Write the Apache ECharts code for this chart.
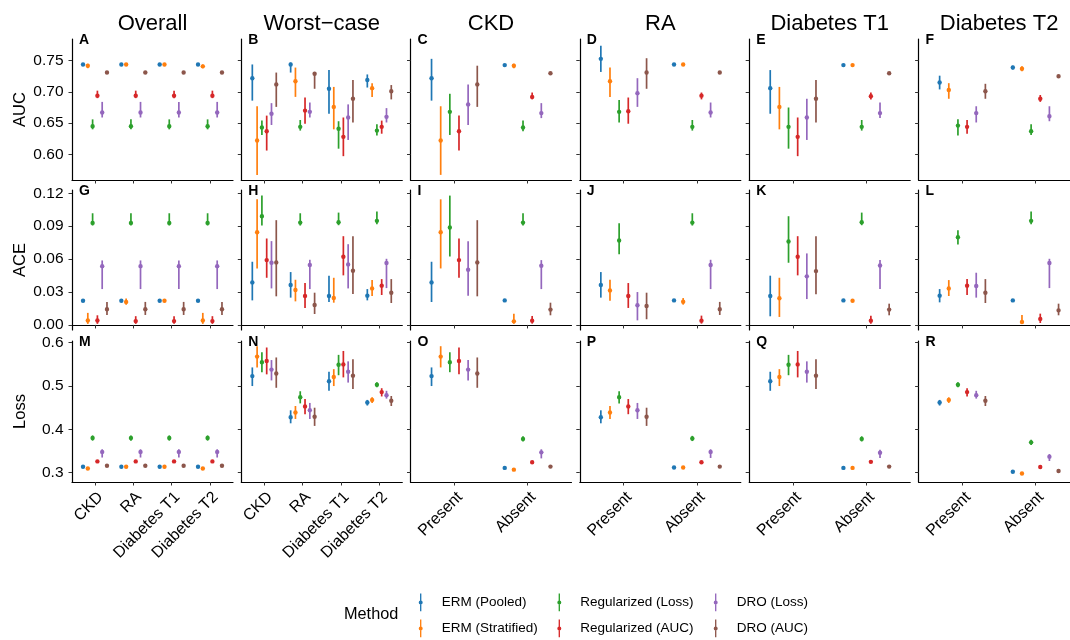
<!DOCTYPE html>
<html>
<head>
<meta charset="utf-8">
<script src="https://cdn.jsdelivr.net/npm/echarts@6/dist/echarts.min.js"></script>
<style>html,body{margin:0;background:#fff}#chart{width:1070px;height:640px}</style>
</head>
<body>
<div id="chart"></div>
<script>
const methods = ['ERM (Pooled)', 'ERM (Stratified)', 'Regularized (Loss)', 'Regularized (AUC)', 'DRO (Loss)', 'DRO (AUC)'];
const colors = ['#1f77b4', '#ff7f0e', '#2ca02c', '#d62728', '#9467bd', '#8c564b'];
const groupCats = ['CKD', 'RA', 'Diabetes T1', 'Diabetes T2'];
const presenceCats = ['Present', 'Absent'];
const columnTitles = ['Overall', 'Worst\u2212case', 'CKD', 'RA', 'Diabetes T1', 'Diabetes T2'];
const metricNames = ['AUC', 'ACE', 'Loss'];
const aucTicks = [0.60, 0.65, 0.70, 0.75];
const aceTicks = [0.00, 0.03, 0.06, 0.09, 0.12];
const lossTicks = [0.3, 0.4, 0.5, 0.6];

// one row per method, one [estimate, lower, upper] per category
const aucOverall = [
  [[0.744,0.742,0.746],[0.744,0.742,0.746],[0.744,0.742,0.746],[0.744,0.742,0.746]],
  [[0.742,0.738,0.745],[0.744,0.742,0.746],[0.744,0.742,0.746],[0.741,0.738,0.744]],
  [[0.645,0.640,0.656],[0.645,0.640,0.656],[0.645,0.640,0.656],[0.645,0.640,0.656]],
  [[0.694,0.690,0.702],[0.694,0.690,0.702],[0.694,0.690,0.702],[0.694,0.690,0.702]],
  [[0.667,0.659,0.684],[0.667,0.659,0.684],[0.667,0.659,0.684],[0.667,0.659,0.684]],
  [[0.731,0.729,0.733],[0.731,0.729,0.733],[0.731,0.729,0.733],[0.731,0.729,0.733]]
];
const aucWorst = [
  [[0.722,0.686,0.744],[0.744,0.731,0.747],[0.705,0.665,0.735],[0.719,0.707,0.728]],
  [[0.622,0.567,0.677],[0.717,0.692,0.739],[0.676,0.640,0.708],[0.706,0.692,0.714]],
  [[0.643,0.631,0.654],[0.644,0.638,0.655],[0.641,0.609,0.653],[0.638,0.630,0.648]],
  [[0.637,0.606,0.662],[0.670,0.649,0.691],[0.628,0.597,0.659],[0.644,0.633,0.654]],
  [[0.665,0.647,0.682],[0.668,0.659,0.683],[0.659,0.623,0.680],[0.660,0.651,0.674]],
  [[0.712,0.676,0.731],[0.729,0.705,0.732],[0.689,0.651,0.719],[0.701,0.688,0.711]]
];
const aucCKD = [
  [[0.722,0.686,0.753],[0.743,0.742,0.744]],
  [[0.622,0.567,0.677],[0.742,0.738,0.745]],
  [[0.668,0.631,0.697],[0.643,0.637,0.654]],
  [[0.637,0.606,0.662],[0.692,0.688,0.699]],
  [[0.680,0.647,0.712],[0.666,0.658,0.682]],
  [[0.712,0.676,0.742],[0.730,0.729,0.731]]
];
const aucRA = [
  [[0.753,0.732,0.774],[0.744,0.743,0.745]],
  [[0.717,0.692,0.739],[0.744,0.743,0.745]],
  [[0.668,0.651,0.687],[0.644,0.638,0.655]],
  [[0.669,0.649,0.691],[0.694,0.688,0.699]],
  [[0.698,0.676,0.722],[0.667,0.659,0.683]],
  [[0.731,0.705,0.754],[0.731,0.730,0.732]]
];
const aucT1 = [
  [[0.706,0.665,0.735],[0.743,0.742,0.744]],
  [[0.676,0.640,0.708],[0.743,0.742,0.744]],
  [[0.644,0.609,0.675],[0.644,0.638,0.655]],
  [[0.628,0.597,0.659],[0.693,0.688,0.699]],
  [[0.659,0.623,0.689],[0.666,0.658,0.683]],
  [[0.689,0.651,0.719],[0.730,0.729,0.731]]
];
const aucT2 = [
  [[0.715,0.704,0.726],[0.739,0.736,0.742]],
  [[0.703,0.689,0.714],[0.737,0.733,0.741]],
  [[0.646,0.630,0.656],[0.637,0.631,0.648]],
  [[0.644,0.633,0.655],[0.689,0.684,0.695]],
  [[0.666,0.651,0.677],[0.661,0.653,0.677]],
  [[0.701,0.689,0.713],[0.725,0.723,0.727]]
];

const aceOverall = [
  [[0.022,0.021,0.023],[0.022,0.021,0.023],[0.022,0.021,0.023],[0.022,0.021,0.023]],
  [[0.004,0.001,0.011],[0.021,0.0185,0.024],[0.022,0.021,0.023],[0.004,0.001,0.011]],
  [[0.093,0.0906,0.1018],[0.093,0.0906,0.1018],[0.093,0.0906,0.1018],[0.093,0.0906,0.1018]],
  [[0.004,0.001,0.0088],[0.0035,0.001,0.008],[0.0035,0.001,0.008],[0.0035,0.001,0.008]],
  [[0.0536,0.0327,0.0588],[0.0536,0.0327,0.0588],[0.0536,0.0327,0.0588],[0.0536,0.0327,0.0588]],
  [[0.0143,0.0091,0.021],[0.0143,0.0091,0.021],[0.0143,0.0091,0.021],[0.0143,0.0091,0.021]]
];
const aceWorst = [
  [[0.0388,0.0224,0.0576],[0.0364,0.0249,0.0482],[0.0264,0.0209,0.0449],[0.0267,0.0224,0.0327]],
  [[0.0845,0.0515,0.1145],[0.0318,0.0215,0.0412],[0.0245,0.0203,0.043],[0.0333,0.0264,0.0409]],
  [[0.0991,0.0906,0.1179],[0.0933,0.0906,0.1018],[0.0936,0.0909,0.1024],[0.0949,0.0918,0.1033]],
  [[0.0591,0.043,0.0788],[0.0264,0.0155,0.0382],[0.0621,0.0452,0.0809],[0.0358,0.0273,0.0418]],
  [[0.0567,0.0333,0.0764],[0.0546,0.0327,0.0594],[0.0552,0.0333,0.0736],[0.0564,0.0336,0.0603]],
  [[0.057,0.0261,0.0955],[0.0182,0.01,0.0294],[0.0494,0.0282,0.0809],[0.0294,0.02,0.0418]]
];
const aceCKD = [
  [[0.0388,0.0209,0.0576],[0.0224,0.0215,0.0233]],
  [[0.0845,0.0515,0.1145],[0.0033,0.0012,0.0103]],
  [[0.0888,0.0624,0.1179],[0.0933,0.0906,0.1018]],
  [[0.0591,0.043,0.0788],[0.0039,0.0012,0.0082]],
  [[0.0503,0.0267,0.0764],[0.0539,0.0327,0.0591]],
  [[0.057,0.0261,0.0955],[0.014,0.0088,0.0203]]
];
const aceRA = [
  [[0.0364,0.0249,0.0482],[0.0224,0.0215,0.0233]],
  [[0.0315,0.0221,0.0412],[0.0212,0.0185,0.0245]],
  [[0.077,0.0645,0.0927],[0.0933,0.0906,0.1018]],
  [[0.0264,0.0155,0.0382],[0.0039,0.0012,0.0085]],
  [[0.0179,0.0042,0.03],[0.0546,0.0327,0.0594]],
  [[0.0173,0.0052,0.0294],[0.0143,0.0091,0.021]]
];
const aceT1 = [
  [[0.0264,0.0079,0.0449],[0.0224,0.0215,0.0233]],
  [[0.0243,0.0073,0.043],[0.0221,0.0212,0.023]],
  [[0.0761,0.0567,0.0991],[0.0936,0.0909,0.1024]],
  [[0.0621,0.0452,0.0809],[0.0039,0.0012,0.0085]],
  [[0.0443,0.0236,0.0652],[0.0542,0.0327,0.0591]],
  [[0.0491,0.0279,0.0809],[0.014,0.0088,0.0194]]
];
const aceT2 = [
  [[0.0267,0.0206,0.0327],[0.0224,0.0215,0.0233]],
  [[0.0333,0.0264,0.0409],[0.0027,0.0012,0.0091]],
  [[0.08,0.0733,0.0864],[0.0949,0.0918,0.1033]],
  [[0.0358,0.0273,0.0418],[0.0055,0.0018,0.0103]],
  [[0.0355,0.0249,0.0476],[0.0564,0.0336,0.0603]],
  [[0.0294,0.02,0.0418],[0.0133,0.0088,0.0194]]
];

const lossOverall = [
  [[0.3136,0.3125,0.3147],[0.3136,0.3125,0.3147],[0.3136,0.3125,0.3147],[0.3136,0.3125,0.3147]],
  [[0.3097,0.3085,0.311],[0.3136,0.3125,0.3147],[0.3136,0.3125,0.3147],[0.3097,0.3085,0.311]],
  [[0.380,0.374,0.386],[0.380,0.374,0.386],[0.380,0.374,0.386],[0.380,0.374,0.386]],
  [[0.326,0.324,0.328],[0.326,0.324,0.328],[0.326,0.324,0.328],[0.326,0.324,0.328]],
  [[0.348,0.335,0.354],[0.348,0.335,0.354],[0.348,0.335,0.354],[0.348,0.335,0.354]],
  [[0.316,0.315,0.317],[0.316,0.315,0.317],[0.316,0.315,0.317],[0.316,0.315,0.317]]
];
const lossWorst = [
  [[0.523,0.500,0.543],[0.428,0.414,0.444],[0.511,0.489,0.533],[0.462,0.455,0.468]],
  [[0.568,0.543,0.592],[0.439,0.424,0.454],[0.521,0.500,0.539],[0.468,0.461,0.474]],
  [[0.555,0.532,0.578],[0.474,0.460,0.488],[0.549,0.525,0.572],[0.503,0.497,0.509]],
  [[0.558,0.527,0.589],[0.453,0.435,0.470],[0.550,0.520,0.581],[0.486,0.476,0.495]],
  [[0.538,0.513,0.560],[0.444,0.424,0.461],[0.533,0.508,0.557],[0.479,0.471,0.489]],
  [[0.529,0.496,0.566],[0.429,0.408,0.450],[0.524,0.493,0.562],[0.466,0.454,0.477]]
];
const lossCKD = [
  [[0.523,0.500,0.543],[0.311,0.310,0.312]],
  [[0.568,0.543,0.592],[0.307,0.306,0.308]],
  [[0.555,0.532,0.578],[0.378,0.372,0.384]],
  [[0.558,0.527,0.589],[0.324,0.323,0.325]],
  [[0.538,0.513,0.560],[0.347,0.333,0.354]],
  [[0.529,0.496,0.566],[0.314,0.313,0.315]]
];
const lossRA = [
  [[0.428,0.414,0.444],[0.312,0.311,0.313]],
  [[0.439,0.424,0.454],[0.312,0.311,0.313]],
  [[0.474,0.460,0.488],[0.379,0.373,0.385]],
  [[0.453,0.435,0.470],[0.324,0.323,0.325]],
  [[0.444,0.424,0.461],[0.348,0.334,0.354]],
  [[0.429,0.408,0.450],[0.314,0.313,0.315]]
];
const lossT1 = [
  [[0.511,0.489,0.533],[0.311,0.310,0.312]],
  [[0.521,0.500,0.539],[0.311,0.310,0.312]],
  [[0.549,0.525,0.572],[0.378,0.372,0.384]],
  [[0.550,0.520,0.581],[0.325,0.324,0.326]],
  [[0.533,0.508,0.557],[0.346,0.334,0.353]],
  [[0.524,0.493,0.562],[0.314,0.313,0.315]]
];
const lossT2 = [
  [[0.462,0.455,0.468],[0.302,0.301,0.303]],
  [[0.468,0.461,0.474],[0.298,0.297,0.299]],
  [[0.503,0.497,0.509],[0.370,0.364,0.376]],
  [[0.486,0.476,0.495],[0.313,0.312,0.314]],
  [[0.479,0.471,0.489],[0.337,0.327,0.343]],
  [[0.466,0.454,0.477],[0.304,0.303,0.305]]
];

const panels = [
  [aucOverall, aucWorst, aucCKD, aucRA, aucT1, aucT2],
  [aceOverall, aceWorst, aceCKD, aceRA, aceT1, aceT2],
  [lossOverall, lossWorst, lossCKD, lossRA, lossT1, lossT2]
];
const rowTicks = [aucTicks, aceTicks, lossTicks];
const rowRange = [[0.5588, 0.7848], [-0.0046, 0.123], [0.2785, 0.604]];
const rowDigits = [2, 2, 1];
const letters = 'ABCDEFGHIJKLMNOPQR';

const colLeft = [72, 241.3, 410.5, 579.8, 749.2, 918.6];
const rowTop = [39, 190, 341];
const rowHeight = [141, 140, 141];
const panelWidth = 161;
const dodge = 0.125;
const font = "'Liberation Sans', Arial, sans-serif";

const grid = [], xAxis = [], yAxis = [], series = [], graphic = [];

function renderItem(params, api) {
  const x = api.value(0);
  const p = api.coord([x, api.value(1)]);
  const lo = api.coord([x, api.value(2)]);
  const hi = api.coord([x, api.value(3)]);
  const color = api.visual('color');
  return {
    type: 'group',
    children: [
      { type: 'line', shape: { x1: p[0], y1: lo[1], x2: p[0], y2: hi[1] }, style: { stroke: color, lineWidth: 1.7 } },
      { type: 'circle', shape: { cx: p[0], cy: p[1], r: 2.2 }, style: { fill: color } }
    ]
  };
}

for (let r = 0; r < 3; r++) {
  for (let c = 0; c < 6; c++) {
    const idx = r * 6 + c;
    const cats = c < 2 ? groupCats : presenceCats;
    const pos = cats.map((_, k) => k + 1);
    grid.push({ left: colLeft[c], top: rowTop[r], width: panelWidth, height: rowHeight[r], outerBoundsMode: 'none', containLabel: false });
    xAxis.push({
      gridIndex: idx, type: 'value', min: 0.4, max: cats.length + 0.6,
      splitLine: { show: false },
      axisLine: { show: true, lineStyle: { color: '#000', width: 1.2 } },
      axisTick: { show: true, customValues: pos, length: 3.5, lineStyle: { color: '#333', width: 1 } },
      axisLabel: {
        show: r === 2, customValues: pos, rotate: 45, margin: 7,
        align: 'right', verticalAlign: 'top',
        fontSize: 16, color: '#000', fontFamily: font,
        formatter: v => cats[Math.round(v) - 1]
      }
    });
    yAxis.push({
      gridIndex: idx, type: 'value', min: rowRange[r][0], max: rowRange[r][1],
      splitLine: { show: false },
      axisLine: { show: true, lineStyle: { color: '#000', width: 1.2 } },
      axisTick: { show: true, customValues: rowTicks[r], length: 3.5, lineStyle: { color: '#333', width: 1 } },
      axisLabel: {
        show: c === 0, customValues: rowTicks[r], margin: 8.5,
        fontSize: 15.5, color: '#000', fontFamily: font,
        formatter: v => v.toFixed(rowDigits[r])
      },
      name: c === 0 ? metricNames[r] : '',
      nameLocation: 'middle', nameGap: 43,
      nameTextStyle: { fontSize: 16.5, color: '#000', fontFamily: font }
    });
    const values = panels[r][c];
    methods.forEach((m, i) => {
      series.push({
        type: 'custom', name: m, xAxisIndex: idx, yAxisIndex: idx,
        itemStyle: { color: colors[i] },
        clip: false, silent: true,
        encode: { x: 0, y: [1, 2, 3] },
        renderItem: renderItem,
        data: values[i].map((v, k) => [k + 1 + (i - 2.5) * dodge, v[0], v[1], v[2]])
      });
    });
    graphic.push({
      type: 'text', x: colLeft[c] + 7, y: rowTop[r] + 1,
      style: { text: letters[idx], font: 'bold 14px ' + font, fill: '#000', textAlign: 'left', textVerticalAlign: 'middle' }
    });
  }
}
columnTitles.forEach((t, c) => {
  graphic.push({
    type: 'text', x: colLeft[c] + panelWidth / 2, y: 24,
    style: { text: t, font: '22px ' + font, fill: '#000', textAlign: 'center', textVerticalAlign: 'middle' }
  });
});
graphic.push({
  type: 'text', x: 344, y: 615,
  style: { text: 'Method', font: '16.3px ' + font, fill: '#000', textAlign: 'left', textVerticalAlign: 'middle' }
});

// legend: three columns of two keys each
const legendIcon = 'path://M1.4,0H2.6V16H1.4Z M2,6.2A1.8,1.8 0 1 1 2,9.8A1.8,1.8 0 1 1 2,6.2Z';
const legendLeft = [418.7, 557.3, 713.7];
const legendTop = [593.5, 619.5];
const legend = methods.map((m, i) => ({
  data: [m],
  orient: 'horizontal', left: legendLeft[Math.floor(i / 2)], top: legendTop[i % 2],
  padding: 0, itemWidth: 4, itemHeight: 20,
  icon: legendIcon, selectedMode: false,
  textStyle: { fontSize: 13.5, color: '#000', fontFamily: font, padding: [0, 0, 0, 14] }
}));

const chart = echarts.init(document.getElementById('chart'), null, { renderer: 'canvas' });
chart.setOption({
  animation: false,
  backgroundColor: '#fff',
  textStyle: { fontFamily: font },
  grid: grid,
  xAxis: xAxis,
  yAxis: yAxis,
  legend: legend,
  graphic: graphic,
  series: series
});
</script>
</body>
</html>
